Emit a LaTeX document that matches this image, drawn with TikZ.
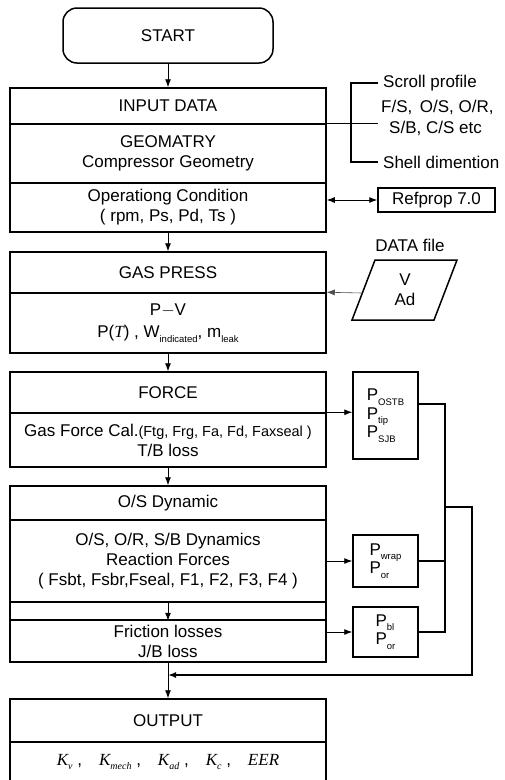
\documentclass[tikz,border=0pt]{standalone}
\usepackage{fontspec}
\setmainfont{Liberation Sans}
\newfontfamily\tnr{Liberation Serif}
\usetikzlibrary{arrows.meta}
\newcommand{\lsub}[1]{\raisebox{-0.5ex}{\fontsize{9.5}{9.5}\selectfont #1}}
\newcommand{\kterm}[1]{{\tnr\itshape K\raisebox{-0.45ex}{\fontsize{10}{10}\selectfont #1}}}

\begin{document}
\begin{tikzpicture}
  [x=1pt,y=-1pt,>={Latex[length=8pt,width=6pt]},
   every node/.style={font=\fontsize{17}{20}\selectfont,inner sep=0pt,align=center},
   sect/.style={draw=black,line width=1.5pt,minimum width=316pt},
   pbox/.style={draw=black,line width=1.5pt,minimum width=65pt,align=left,
                font=\fontsize{17}{18.5}\selectfont},
   arr/.style={line width=0.9pt,->},
   bus/.style={line width=1.5pt}]
  \useasboundingbox (0,0) rectangle (504,780);

  % main column
  \node[sect,rounded corners=14pt,minimum width=210pt,minimum height=55pt] (start) at (168,35.5) {START};
  \node[sect,minimum height=36pt] (input) at (168,106) {INPUT DATA};
  \node[sect,minimum height=59pt] (geom) at (168,153.5) {GEOMATRY\\Compressor Geometry};
  \node[sect,minimum height=49pt] (oper) at (168,207.5) {Operationg Condition\\( rpm, Ps, Pd, Ts )};
  \node[sect,minimum height=41pt] (gas) at (168,272.5) {GAS PRESS};
  \node[sect,minimum height=60pt] (pv) at (168,323) {P$-$V\\[2pt]P({\tnr\itshape T}) , W\lsub{indicated}, m\lsub{leak}};
  \node[sect,minimum height=41pt] (force) at (168,392.5) {FORCE};
  \node[sect,minimum height=54pt] (gasf) at (168,440) {Gas Force Cal.{\fontsize{14.5}{20}\selectfont(Ftg, Frg, Fa, Fd, Faxseal )}\\T/B loss};
  \node[sect,minimum height=34pt] (osd) at (168,503) {O/S Dynamic};
  \node[sect,minimum height=82pt] (dyn) at (168,561) {O/S, O/R, S/B Dynamics\\Reaction Forces\\( Fsbt, Fsbr,Fseal, F1, F2, F3, F4 )};
  \node[sect,minimum height=18pt] (gap) at (168,611) {};
  \node[sect,minimum height=42pt] (fric) at (168,641) {Friction losses\\J/B loss};
  \node[sect,minimum height=43pt] (out) at (168,720.5) {OUTPUT};
  \node[sect,minimum height=40pt] (kout) at (168,762) {\kterm{v} ,\quad \kterm{mech} ,\quad \kterm{ad} ,\quad \kterm{c} ,\quad {\tnr\itshape EER}};

  % side inputs
  \node[anchor=west] (scroll) at (383,83) {Scroll profile};
  \node[anchor=west] (fs) at (381,107) {F/S,\, O/S, O/R,};
  \node[anchor=west] (sb) at (389,128) {S/B, C/S etc};
  \node[anchor=west] (shell) at (383,162) {Shell dimention};
  \node[draw=black,line width=1.5pt,minimum width=117pt,minimum height=24pt] (refprop) at (436.5,200) {Refprop 7.0};
  \node (dfile) at (410,245) {DATA file};
  \node (data) at (405,290) {V\\Ad};
  \draw[bus] (375,260) -- (457,260) -- (434,320) -- (352,320) -- cycle;

  % side outputs
  \node[pbox,minimum height=87pt] (pf) at (385.5,415.5) {P\lsub{OSTB}\\P\lsub{tip}\\P\lsub{SJB}};
  \node[pbox,minimum height=52pt] (pd) at (385.5,561) {P\lsub{wrap}\\P\lsub{or}};
  \node[pbox,minimum height=50pt] (pb) at (385.5,632) {P\lsub{bl}\\P\lsub{or}};

  \coordinate (br) at (351,120);
  \coordinate (dleft) at (362,293);
  \coordinate (b1) at (445,404);
  \coordinate (b2) at (445,507);
  \coordinate (r1) at (472,507);
  \coordinate (r2) at (472,675);

  \foreach \from/\to in {start/input, oper/gas, pv/force, gasf/osd, gap.north/gap.south, fric/out}
    \draw[arr] (\from) -- (\to);

  \draw[bus] ([xshift=-5pt]scroll.west) -- (scroll.west -| br) -- (shell.west -| br) -- ([xshift=-5pt]shell.west);
  \draw[line width=1.2pt] (geom.north east) -- ([xshift=-3pt]geom.north east -| fs.west);
  \draw[arr,<->] (refprop.west -| oper.east) -- (refprop.west);
  \draw[arr,line width=0.6pt,gray!60!black] (dleft) -- (pv.north east);

  \draw[arr] (gasf.north east) -- (gasf.north east -| pf.west);
  \draw[arr] (dyn.east) -- (dyn.east -| pd.west);
  \draw[arr] (pb.west -| fric.east) -- (pb.west);

  \draw[bus] (b1 -| pf.east) -- (b1) -- (pb.east -| b1) -- (pb.east);
  \draw[bus] (pd.east) -- (pd.east -| b1);
  \draw[bus,->] (b2) -- (r1) -- (r2) -- (r2 -| fric.south);
\end{tikzpicture}
\end{document}
